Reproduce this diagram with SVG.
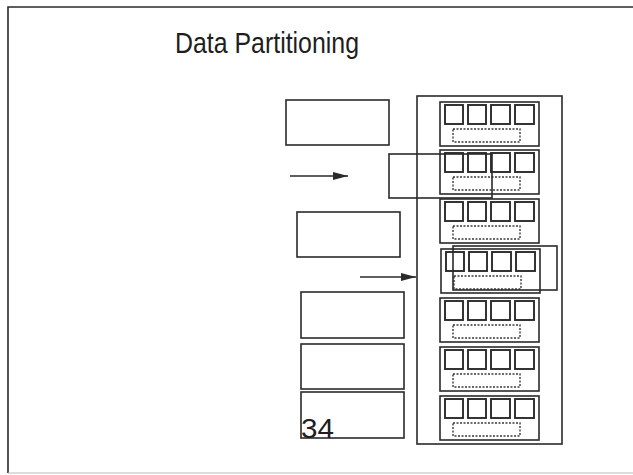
<svg xmlns="http://www.w3.org/2000/svg" width="633" height="475" viewBox="0 0 633 475">
  <defs>
    <style>
      .ln { fill: none; stroke: #2a2a2a; stroke-width: 1.6; }
      .sq { fill: none; stroke: #2a2a2a; stroke-width: 1.9; }
      .dash { fill: none; stroke: #3a3a3a; stroke-width: 1.4; stroke-dasharray: 2 1.5; }
      .txt { font-family: "Liberation Sans", Arial, sans-serif; fill: #1e1e1e; }
    </style>
    <marker id="head" markerWidth="15" markerHeight="9" refX="15" refY="4.5" orient="auto" markerUnits="userSpaceOnUse">
      <path d="M0,0.5 L15,4.5 L0,8.5 Z" fill="#2a2a2a"/>
    </marker>
    <!-- one storage block: four squares above a dashed strip -->
    <g id="blk">
      <rect class="ln" x="0" y="0" width="99" height="44"/>
      <rect class="sq" x="5" y="3" width="18" height="19"/>
      <rect class="sq" x="28" y="3" width="18" height="19"/>
      <rect class="sq" x="51" y="3" width="19" height="19"/>
      <rect class="sq" x="75" y="3" width="19" height="19"/>
      <rect class="dash" x="13" y="27" width="67" height="13"/>
    </g>
  </defs>

  <rect width="633" height="475" fill="#fff"/>

  <!-- slide frame -->
  <path class="ln" d="M8,473 L8,7 L633,7" stroke-width="2"/>
  <path d="M8,473 L633,473" stroke="#bbb" stroke-width="1" fill="none"/>

  <text class="txt" x="175" y="53" font-size="29" textLength="184" lengthAdjust="spacingAndGlyphs">Data Partitioning</text>

  <!-- left-hand data boxes -->
  <g id="box1"><rect class="ln" x="286" y="100" width="103" height="45"/></g>
  <g id="box2"><rect class="ln" x="297" y="212" width="103" height="45"/></g>
  <g id="box3"><rect class="ln" x="301" y="292" width="103" height="46"/></g>
  <g id="box4"><rect class="ln" x="301" y="344" width="103" height="45"/></g>
  <g id="box5">
    <rect class="ln" x="301" y="392" width="103" height="46"/>
    <text class="txt" x="301" y="438" font-size="27" textLength="33" lengthAdjust="spacingAndGlyphs">34</text>
  </g>

  <!-- partitioned store -->
  <g id="store">
    <rect class="ln" x="417" y="96" width="145" height="348"/>
    <use href="#blk" x="440" y="102"/>
    <use href="#blk" x="440" y="150"/>
    <use href="#blk" x="440" y="199"/>
    <use href="#blk" x="441" y="249"/>
    <use href="#blk" x="440" y="298"/>
    <use href="#blk" x="440" y="347"/>
    <use href="#blk" x="440" y="396"/>
  </g>

  <!-- partition windows -->
  <g id="window1"><rect class="ln" x="389" y="154" width="103" height="44"/></g>
  <g id="window2"><rect class="ln" x="453" y="246" width="104" height="44"/></g>

  <!-- connectors -->
  <g id="connectors">
    <line class="ln" x1="290" y1="176" x2="348" y2="176" marker-end="url(#head)"/>
    <line class="ln" x1="360" y1="277" x2="416" y2="277" marker-end="url(#head)"/>
  </g>
</svg>
